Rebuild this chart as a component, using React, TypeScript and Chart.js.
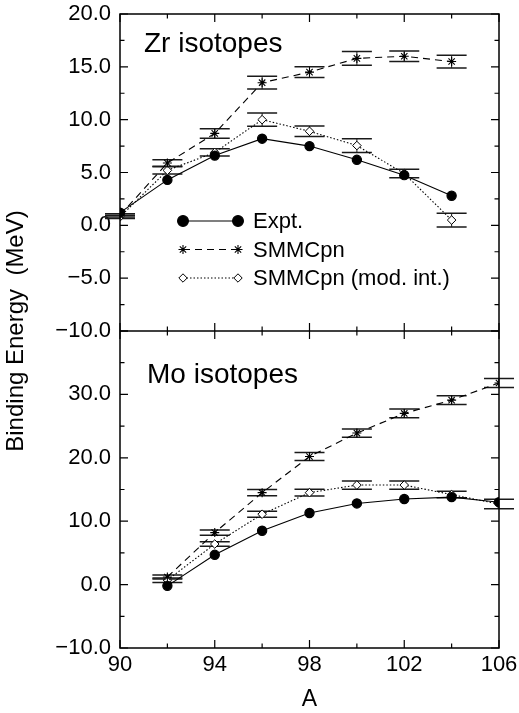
import { useEffect, useRef } from "react";
import { Chart, registerables } from "chart.js";
import { drawPoint } from "chart.js/helpers";

Chart.register(...registerables);

// ---- data ----
const zrA = [90, 92, 94, 96, 98, 100, 102, 104];
const zrExpt = [1.2, 4.3, 6.6, 8.2, 7.5, 6.2, 4.75, 2.8];
const zrSmmc = [0.95, 5.9, 8.7, 13.5, 14.5, 15.8, 16.0, 15.5];
const zrSmmcErr = [0.15, 0.3, 0.45, 0.6, 0.5, 0.65, 0.5, 0.6];
const zrMod = [0.8, 5.2, 6.9, 10.0, 8.9, 7.55, 4.9, 0.5];
const zrModErr = [0.15, 0.35, 0.35, 0.63, 0.5, 0.65, 0.4, 0.65];

const moA = [92, 94, 96, 98, 100, 102, 104, 106];
const moExpt = [-0.2, 4.7, 8.5, 11.3, 12.8, 13.5, 13.8, 13.0];
const moSmmc = [1.2, 8.2, 14.5, 20.2, 23.9, 27.0, 29.1, 31.8];
const moSmmcErr = [0.3, 0.4, 0.5, 0.63, 0.65, 0.7, 0.7, 0.7];
const moMod = [0.7, 6.4, 11.1, 14.5, 15.7, 15.7, 14.2, 12.7];
const moModErr = [0.35, 0.37, 0.47, 0.52, 0.65, 0.65, 0.52, 0.75];

const seriesLabels = ["Expt.", "SMMCpn", "SMMCpn (mod. int.)"];
const panelTitles = ["Zr isotopes", "Mo isotopes"];
const yTitle = "Binding Energy  (MeV)";
const xTitle = "A";

const FONT = "'Liberation Sans', Arial, Helvetica, sans-serif";

const pts = (xs: number[], ys: number[]) => xs.map((x, i) => ({ x, y: ys[i] }));
const fmt = (v: number) => (v < 0 ? "\u2212" + Math.abs(v).toFixed(1) : v.toFixed(1));

const styles = [
  { borderDash: [] as number[], pointStyle: "circle", pointRadius: 4.6, bg: "#000", bw: 1.2 },
  { borderDash: [7, 5], pointStyle: "star", pointRadius: 4.5, bg: "#000", bw: 1.1 },
  { borderDash: [1.5, 2], pointStyle: "rectRot", pointRadius: 4.3, bg: "#fff", bw: 1 },
];

function mk(i: number, xs: number[], ys: number[], axis: string, errs?: number[]) {
  const s = styles[i];
  return {
    label: seriesLabels[i],
    data: pts(xs, ys),
    yAxisID: axis,
    borderColor: "#000",
    backgroundColor: s.bg,
    borderWidth: 1.1,
    borderDash: s.borderDash,
    pointStyle: s.pointStyle,
    pointRadius: s.pointRadius,
    pointBorderWidth: s.bw,
    pointBackgroundColor: s.bg,
    pointBorderColor: "#000",
    tension: 0,
    errors: errs,
  } as any;
}

const errorBars = {
  id: "errorBars",
  beforeDatasetsDraw(chart: any) {
    const ctx = chart.ctx;
    const xs = chart.scales.x;
    chart.data.datasets.forEach((ds: any) => {
      if (!ds.errors) return;
      const ys = chart.scales[ds.yAxisID];
      ctx.save();
      ctx.strokeStyle = "#1a1a1a";
      ds.data.forEach((p: any, j: number) => {
        const px = xs.getPixelForValue(p.x);
        const y1 = ys.getPixelForValue(p.y + ds.errors[j]);
        const y2 = ys.getPixelForValue(p.y - ds.errors[j]);
        const hw = 15;
        ctx.lineWidth = 1.5;
        ctx.beginPath();
        ctx.moveTo(px - hw, y1);
        ctx.lineTo(px + hw, y1);
        ctx.moveTo(px - hw, y2);
        ctx.lineTo(px + hw, y2);
        ctx.stroke();
        ctx.lineWidth = 1;
        ctx.beginPath();
        ctx.moveTo(px, y1);
        ctx.lineTo(px, y2);
        ctx.stroke();
      });
      ctx.restore();
    });
  },
};

const frame = {
  id: "frame",
  afterDatasetsDraw(chart: any) {
    const ctx = chart.ctx;
    const a = chart.chartArea;
    const xs = chart.scales.x;
    const yT = chart.scales.yTop;
    const yB = chart.scales.yBot;
    const mid = yT.getPixelForValue(-10);
    ctx.save();
    ctx.strokeStyle = "#000";
    ctx.lineWidth = 1.5;
    ctx.strokeRect(a.left, a.top, a.right - a.left, a.bottom - a.top);
    ctx.beginPath();
    ctx.moveTo(a.left, mid);
    ctx.lineTo(a.right, mid);
    ctx.stroke();
    ctx.lineWidth = 1.2;
    const major = 8;
    const minor = 4.5;
    // x ticks
    for (let v = xs.min; v <= xs.max + 1e-9; v += 2) {
      const L = (v - 90) % 4 === 0 ? major : minor;
      const px = xs.getPixelForValue(v);
      ctx.beginPath();
      ctx.moveTo(px, a.top);
      ctx.lineTo(px, a.top + L);
      ctx.moveTo(px, mid - L);
      ctx.lineTo(px, mid + L);
      ctx.moveTo(px, a.bottom);
      ctx.lineTo(px, a.bottom - L);
      ctx.stroke();
    }
    // y ticks
    const doY = (sc: any, step: number, majorStep: number) => {
      for (let v = sc.min; v <= sc.max + 1e-9; v += step) {
        const L = Math.abs(v % majorStep) < 1e-9 ? major : minor;
        const py = sc.getPixelForValue(v);
        ctx.beginPath();
        ctx.moveTo(a.left, py);
        ctx.lineTo(a.left + L, py);
        ctx.moveTo(a.right, py);
        ctx.lineTo(a.right - L, py);
        ctx.stroke();
      }
    };
    doY(yT, 2.5, 5);
    doY(yB, 5, 10);
    ctx.restore();
  },
};

const annotations = {
  id: "annotations",
  afterDraw(chart: any) {
    const ctx = chart.ctx;
    const a = chart.chartArea;
    ctx.save();
    ctx.fillStyle = "#000";
    // panel titles
    ctx.font = `28px ${FONT}`;
    ctx.textAlign = "left";
    ctx.textBaseline = "alphabetic";
    ctx.fillText(panelTitles[0], 144, 52);
    ctx.fillText(panelTitles[1], 147, 383);
    // y title
    ctx.font = `24px ${FONT}`;
    ctx.translate(16, (a.top + a.bottom) / 2);
    ctx.rotate(-Math.PI / 2);
    ctx.textAlign = "center";
    ctx.textBaseline = "middle";
    ctx.fillText(yTitle, 0, 0);
    ctx.restore();

    // legend
    ctx.save();
    const x1 = 183, x2 = 238, tx = 253;
    const rows = [221, 249.5, 278];
    const legR = [5.4, 4.5, 4.2];
    for (let i = 0; i < 3; i++) {
      const s = styles[i];
      const y = rows[i];
      ctx.strokeStyle = "#000";
      ctx.lineWidth = 1.1;
      ctx.setLineDash(s.borderDash);
      ctx.beginPath();
      ctx.moveTo(x1, y);
      ctx.lineTo(x2, y);
      ctx.stroke();
      ctx.setLineDash([]);
      ctx.fillStyle = s.bg;
      ctx.lineWidth = s.bw;
      for (const px of [x1, x2]) {
        drawPoint(ctx, { pointStyle: s.pointStyle as any, radius: legR[i], rotation: 0, borderWidth: s.bw }, px, y);
      }
      ctx.fillStyle = "#000";
      ctx.font = `22px ${FONT}`;
      ctx.textAlign = "left";
      ctx.textBaseline = "middle";
      ctx.fillText(seriesLabels[i], tx, y + 1);
    }
    ctx.restore();
  },
};

const noPadY = (s: any) => {
  s.width = 120;
  s.paddingTop = 0;
  s.paddingBottom = 0;
};

export default function App() {
  const ref = useRef<HTMLCanvasElement>(null);
  useEffect(() => {
    if (!ref.current) return;
    Chart.defaults.font.family = FONT;
    Chart.defaults.color = "#000";
    const chart = new Chart(ref.current, {
      type: "line",
      data: {
        datasets: [
          mk(0, zrA, zrExpt, "yTop"),
          mk(1, zrA, zrSmmc, "yTop", zrSmmcErr),
          mk(2, zrA, zrMod, "yTop", zrModErr),
          mk(0, moA, moExpt, "yBot"),
          mk(1, moA, moSmmc, "yBot", moSmmcErr),
          mk(2, moA, moMod, "yBot", moModErr),
        ],
      },
      options: {
        animation: false,
        responsive: false,
        devicePixelRatio: 1,
        layout: { padding: { left: 0, right: 20, top: 14, bottom: 0 } },
        plugins: { legend: { display: false }, tooltip: { enabled: false } },
        scales: {
          x: {
            type: "linear",
            position: "bottom",
            min: 90,
            max: 106,
            ticks: { stepSize: 4, font: { size: 22 }, color: "#000", padding: 4, maxRotation: 0, autoSkip: false },
            grid: { display: false, drawTicks: false },
            border: { display: false },
            title: { display: true, text: xTitle, font: { size: 23 }, color: "#000", padding: { top: 0, bottom: 0 } },
            afterFit: (s: any) => {
              s.height = 65;
              s.paddingLeft = 0;
              s.paddingRight = 0;
            },
          },
          yBot: {
            type: "linear",
            position: "left",
            stack: "panels",
            stackWeight: 1,
            weight: 0,
            min: -10,
            max: 40,
            ticks: {
              count: 6,
              stepSize: 10,
              autoSkip: false,
              font: { size: 22, lineHeight: 1 },
              color: "#000",
              padding: 9,
              callback: (v: any) => (v === 40 ? "" : fmt(v)),
            },
            grid: { display: false, drawTicks: false },
            border: { display: false },
            afterFit: noPadY,
          },
          yTop: {
            type: "linear",
            position: "left",
            stack: "panels",
            stackWeight: 1,
            weight: 1,
            min: -10,
            max: 20,
            ticks: {
              count: 7,
              stepSize: 5,
              autoSkip: false,
              font: { size: 22, lineHeight: 1 },
              color: "#000",
              padding: 9,
              callback: (v: any) => fmt(v),
            },
            grid: { display: false, drawTicks: false },
            border: { display: false },
            afterFit: noPadY,
          },
        } as any,
      },
      plugins: [errorBars, frame, annotations],
    });
    return () => chart.destroy();
  }, []);
  return (
    <canvas
      ref={ref}
      width={519}
      height={713}
      style={{ position: "absolute", left: 0, top: 0, width: 519, height: 713 }}
    />
  );
}
